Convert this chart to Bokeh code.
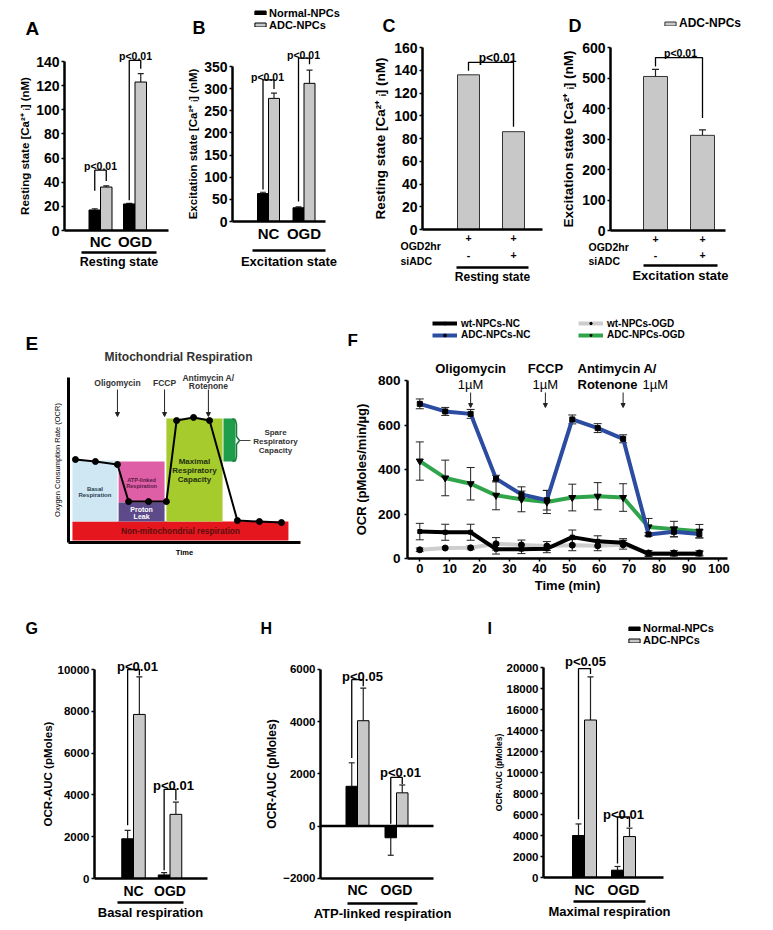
from bokeh.plotting import figure
from bokeh.models import (Range1d, FixedTicker, LinearAxis, Legend, LegendItem, Label,
                          Whisker, ColumnDataSource, TeeHead, Arrow, NormalHead)
from bokeh.layouts import row, column
from bokeh.embed import file_html
from bokeh.resources import INLINE

FONT = "Liberation Sans"
BLACK = "#000000"
GRAY = "#c8c8c8"

# ------------------------------------------------------------------ DATA
groups = ["NC", "OGD"]
series_names = ["Normal-NPCs", "ADC-NPCs"]

a_normal = [17, 22]
a_normal_err = [1, 0.5]
a_adc = [36, 123]
a_adc_err = [1, 7]

b_normal = [63, 31]
b_normal_err = [3, 2]
b_adc = [278, 312]
b_adc_err = [12, 30]

cd_ogd2hr = ["+", "+"]
cd_siadc = ["-", "+"]
c_adc = [136, 86]
d_adc = [505, 312]
d_adc_err = [23, 18]

f_time = [0, 8.5, 17, 25.5, 34, 42.5, 51, 59.5, 68, 76.5, 85, 93.5]
f_wt_nc = [121, 118, 118, 42, 42, 44, 96, 77, 71, 21, 21, 21]
f_wt_nc_err = [37, 36, 36, 22, 20, 18, 32, 25, 18, 12, 10, 10]
f_adc_nc = [695, 661, 650, 359, 288, 262, 625, 586, 538, 108, 120, 110]
f_adc_nc_err = [22, 18, 20, 15, 15, 44, 20, 20, 18, 8, 22, 18]
f_wt_ogd = [39, 47, 48, 66, 61, 56, 60, 57, 62, 25, 25, 25]
f_wt_ogd_err = [8, 6, 8, 28, 22, 20, 25, 22, 20, 10, 10, 10]
f_adc_ogd = [438, 362, 336, 284, 266, 254, 274, 280, 274, 142, 132, 123]
f_adc_ogd_err = [86, 80, 73, 65, 56, 52, 60, 61, 62, 38, 35, 30]
f_inject_time = [17, 42, 68]

g_normal = [1900, 170]
g_normal_err = [400, 110]
g_adc = [7850, 3070]
g_adc_err = [1800, 580]

h_normal = [1520, -450]
h_normal_err = [900, 670]
h_adc = [4030, 1270]
h_adc_err = [1250, 300]

i_normal = [4000, 700]
i_normal_err = [1100, 350]
i_adc = [15000, 3900]
i_adc_err = [4100, 800]

# schematic (panel E), arbitrary units
e_time = [3, 11.6, 21.1, 25.9, 34.5, 42.2, 46.6, 53.9, 60.8, 72.8, 82.3, 91.8]
e_ocr = [50.3, 49.1, 47.3, 24.8, 24.8, 24.8, 73.9, 75.8, 73.9, 13.3, 12.7, 12.1]
e_region = ["Non-mitochondrial respiration", "Basal\nRespiration", "ATP-linked\nRespiration",
            "Proton\nLeak", "Maximal\nRespiratory\nCapacity", "Spare"]
e_left = [1.7, 1.7, 21.6, 21.6, 42.2, 66.8]
e_right = [94.8, 21.1, 41.4, 41.4, 66.4, 72.0]
e_bottom = [1.2, 12.7, 24.2, 12.7, 12.7, 49.1]
e_top = [12.7, 49.7, 49.1, 24.2, 75.2, 75.2]
e_inject = ["Oligomycin", "FCCP", "Antimycin A/", "Rotenone"]
e_inject_time = [21.1, 41.4, 60.3]

E_COLORS = ["#e5161d", "#cfe6f3", "#de5fa6", "#5d4a8a", "#a6cb2c", "#1e9e4a"]


# ------------------------------------------------------------------ helpers
def make_fig(fig, xm, ym):
    fx, fy, w, h = fig
    p = figure(width=w, height=h,
               x_range=Range1d(xm(fx), xm(fx + w)),
               y_range=Range1d(ym(fy + h), ym(fy)),
               min_border=0, min_border_left=0, min_border_right=0,
               min_border_top=0, min_border_bottom=0,
               output_backend="svg", toolbar_location=None)
    p.xgrid.visible = False
    p.ygrid.visible = False
    p.outline_line_color = None
    p.title.visible = False
    if "frame_align" in type(p).properties():
        p.frame_align = False
    return p


def label(p, x, y, text, size, bold=True, align="center", baseline="alphabetic",
          color="black", angle=0, lh=1.0):
    p.add_layout(Label(x=x, y=y, text=text, text_font=FONT, text_font_size=f"{size}px",
                       text_font_style=("bold" if bold else "normal"), text_align=align,
                       text_baseline=baseline, text_color=color, angle=angle,
                       text_line_height=lh))


def base_axis(ax, lw=2.5):
    ax.axis_line_width = lw
    ax.axis_line_color = "black"
    ax.major_tick_line_color = "black"
    ax.major_tick_line_width = 1.5
    ax.minor_tick_line_color = None
    ax.major_label_text_font = FONT
    ax.major_label_text_font_style = "bold"
    ax.major_label_text_color = "black"
    ax.axis_label_text_font = FONT
    ax.axis_label_text_font_style = "bold"
    ax.axis_label_text_color = "black"


def legend_item(p, fig, rends, text, x_page, bottom_page, gw, gh, size, standoff):
    fx, fy, w, h = fig
    leg = Legend(items=[LegendItem(label=text, renderers=rends)],
                 location=(x_page - fx, fy + h - bottom_page), glyph_width=gw,
                 glyph_height=gh, label_text_font=FONT, label_text_font_style="bold",
                 label_text_font_size=f"{size}px", label_text_color="black",
                 label_standoff=standoff, spacing=0, padding=0, margin=0, label_height=gh,
                 border_line_color=None, background_fill_alpha=0)
    p.add_layout(leg)


def bar_panel(c, bars, errs, colors, rows_labels):
    xm = lambda px: 1 + (px - c["g1"]) / c["xppu"]
    ym = lambda py: c["yref"] + (c["y0p"] - py) / c["yppu"]
    p = make_fig(c["fig"], xm, ym)
    x0 = xm(c["axis_x"])
    x1 = xm(c["xend"])
    bw = c["bar"] / c["xppu"]
    n = len(bars)
    centers = [1, 2]
    offs = [(k - (n - 1) / 2) * bw for k in range(n)]
    rends, bar_x = [], []
    for k in range(n):
        xs = [g + offs[k] for g in centers]
        bar_x.append(xs)
        vals = bars[k]
        src = ColumnDataSource(dict(x=xs, top=vals))
        r = p.vbar(x="x", top="top", bottom=0, width=bw, source=src,
                   fill_color=colors[k], line_color=c.get("edge", "black"), line_width=1)
        rends.append(r)
        if errs[k] is not None:
            up = [v + (e if v >= 0 else -e) for v, e in zip(vals, errs[k])]
            wsrc = ColumnDataSource(dict(x=xs, lo=vals, hi=up))
            p.add_layout(Whisker(source=wsrc, base="x", lower="lo", upper="hi",
                                 dimension="height", line_width=1.2, line_color="#222",
                                 upper_head=TeeHead(size=c["cap"], line_width=1.2,
                                                    line_color="#222"),
                                 lower_head=None))
    if c["ybounds"][0] < 0:
        p.segment(x0=[x0], x1=[x1], y0=[0], y1=[0], line_color="black", line_width=2.5)
    bx, by = [], []
    for j, (lb, t, rb) in enumerate(c["brackets"]):
        if n == 2:
            xl, xr = bar_x[0][j], bar_x[1][j]
        else:
            xl, xr = bar_x[0][0], bar_x[0][1]
        bx.append([xl, xl, xr, xr])
        by.append([lb, t, t, rb])
    p.multi_line(bx, by, line_color="black", line_width=1.3)
    for (px, yv, txt) in c["ptext"]:
        label(p, xm(px), yv, txt, c["p_size"])
    # y axis
    ay = p.yaxis[0]
    base_axis(ay)
    ay.fixed_location = x0
    ay.ticker = FixedTicker(ticks=c["yticks"])
    ay.bounds = c["ybounds"]
    ay.major_tick_out = 3
    ay.major_tick_in = 0
    ay.major_label_standoff = 2
    ay.major_label_text_font_size = f"{c['tick_size']}px"
    ay.axis_label = c["ylab"]
    ay.axis_label_text_font_size = f"{c['ylab_size']}px"
    ay.axis_label_standoff = c["ylab_standoff"]
    # x axis (category labels)
    ax = p.xaxis[0]
    base_axis(ax)
    ax.fixed_location = c["ybounds"][0]
    ax.ticker = FixedTicker(ticks=centers)
    ax.major_label_overrides = {1: rows_labels[0][0], 2: rows_labels[0][1]}
    ax.bounds = (x0, x1)
    ax.major_tick_line_color = None
    ax.major_tick_out = 0
    ax.major_tick_in = 0
    ax.major_label_standoff = c["s1"]
    ax.major_label_text_font_size = f"{c['cat_size']}px"
    if len(rows_labels) > 1:
        lab = rows_labels[1]
        ax2 = LinearAxis(ticker=FixedTicker(ticks=centers),
                         major_label_overrides={1: lab[0], 2: lab[1]}, bounds=(x0, x1))
        base_axis(ax2)
        ax2.fixed_location = ym(c["row2"])
        ax2.axis_line_color = None
        ax2.major_tick_line_color = None
        ax2.major_tick_out = 0
        ax2.major_tick_in = 0
        ax2.major_label_standoff = 0
        ax2.major_label_text_font_size = f"{c['cat_size']}px"
        p.add_layout(ax2, "below")
    u0, u1, uy = c["under"]
    ax3 = LinearAxis(ticker=FixedTicker(ticks=[]), bounds=(xm(u0), xm(u1)),
                     axis_label=c["sub"])
    base_axis(ax3, lw=2.5)
    ax3.fixed_location = ym(uy)
    ax3.major_tick_line_color = None
    ax3.major_tick_out = 0
    ax3.major_tick_in = 0
    ax3.major_label_standoff = 0
    ax3.axis_label_standoff = c["s3"]
    ax3.axis_label_text_font_size = f"{c['sub_size']}px"
    p.add_layout(ax3, "below")
    lt, lx, lyb, lsz = c["letter"]
    label(p, xm(lx), ym(lyb), lt, lsz, align="left")
    for (txt, cx, cy) in c.get("captions", []):
        label(p, xm(cx), ym(cy), txt, c["cat_size"], align="left")
    if c.get("legend"):
        lx3, lys, lsize = c["legend"]
        for nm, r, yb in zip(c["legend_names"], rends, lys):
            legend_item(p, c["fig"], [r], nm, lx3, yb, 14, 5, lsize, 2)
    return p


# ------------------------------------------------------------------ panels A-D
cA = dict(fig=(0, 0, 186, 298), g1=100, xppu=34.5, bar=11.5, axis_x=64, xend=168,
          yref=0, y0p=230, yppu=169 / 140, ybounds=(0, 140),
          yticks=list(range(0, 141, 20)), tick_size=14,
          ylab="Resting state [Ca²⁺ ᵢ] (nM)", ylab_size=11.5, ylab_standoff=2,
          cat_size=15, s1=2, under=(81, 156, 252), sub="Resting state", sub_size=12.5, s3=2,
          cap=6, brackets=[(33, 50, 41), (25, 141, 134)],
          ptext=[(100, 53.8, "p<0.01"), (135, 144.4, "p<0.01")], p_size=10.5,
          letter=("A", 25, 28, 19))
pA = bar_panel(cA, [a_normal, a_adc], [a_normal_err, a_adc_err], [BLACK, GRAY], [groups])

cB = dict(fig=(186, 0, 188, 298), g1=268, xppu=35.5, bar=11, axis_x=232, xend=325,
          yref=0, y0p=221, yppu=155 / 350, ybounds=(0, 350),
          yticks=list(range(0, 351, 50)), tick_size=14,
          ylab="Excitation state [Ca²⁺ ᵢ] (nM)", ylab_size=11.5, ylab_standoff=2,
          cat_size=15, s1=3, under=(252, 325, 250), sub="Excitation state", sub_size=13, s3=3,
          cap=6, brackets=[(72, 320, 299), (45, 369, 355)],
          ptext=[(267, 327, "p<0.01"), (303, 377, "p<0.01")], p_size=10.5,
          letter=("B", 192, 27, 18),
          legend=(253, [18.7, 30.7], 11), legend_names=series_names)
pB = bar_panel(cB, [b_normal, b_adc], [b_normal_err, b_adc_err], [BLACK, GRAY], [groups])

cC = dict(fig=(374, 0, 188, 298), g1=468, xppu=45, bar=22, axis_x=422, xend=542,
          yref=0, y0p=229, yppu=182 / 160, ybounds=(0, 160),
          yticks=list(range(0, 161, 20)), tick_size=14,
          ylab="Resting state [Ca²⁺ ᵢ] (nM)", ylab_size=13.5, ylab_standoff=3,
          cat_size=10.5, s1=4, row2=250, under=(456, 528, 267), sub="Resting state",
          sub_size=12, s3=2, cap=6, edge="#333333",
          brackets=[(139.5, 147, 90.3)], ptext=[(497, 151, "p<0.01")], p_size=12,
          letter=("C", 382, 25, 18),
          captions=[("OGD2hr", 400, 245), ("siADC", 400, 260)])
pC = bar_panel(cC, [c_adc], [None], [GRAY], [cd_ogd2hr, cd_siadc])

cD = dict(fig=(562, 0, 211, 298), g1=655, xppu=47, bar=24, axis_x=610, xend=725,
          yref=0, y0p=230, yppu=183 / 600, ybounds=(0, 600),
          yticks=list(range(0, 601, 100)), tick_size=14,
          ylab="Excitation state [Ca²⁺ ᵢ] (nM)", ylab_size=13.5, ylab_standoff=3,
          cat_size=10.5, s1=4, row2=250, under=(643, 717, 265), sub="Excitation state",
          sub_size=13, s3=2, cap=7, edge="#333333",
          brackets=[(538, 567, 369)], ptext=[(680, 581, "p<0.01")], p_size=10.5,
          letter=("D", 568, 25, 18),
          captions=[("OGD2hr", 588, 246), ("siADC", 588, 260)],
          legend=(663, [30], 12), legend_names=["ADC-NPCs"])
pD = bar_panel(cD, [d_adc], [d_adc_err], [GRAY], [cd_ogd2hr, cd_siadc])

# ------------------------------------------------------------------ panel E
E_FIG = (0, 298, 330, 300)
e_xm = lambda px: (px - 68) / 2.32
e_ym = lambda py: (542 - py) / 1.65
pE = make_fig(E_FIG, e_xm, e_ym)
esrc = ColumnDataSource(dict(l=e_left, r=e_right, b=e_bottom, t=e_top, c=E_COLORS))
pE.quad(left="l", right="r", bottom="b", top="t", fill_color="c", line_color=None, source=esrc)
pE.line(e_time, e_ocr, line_color="black", line_width=2)
pE.scatter(e_time, e_ocr, size=6, color="black")
brace_x = [e_xm(v) for v in (232, 235, 236, 236, 239, 236, 236, 235, 232)]
brace_y = [e_ym(v) for v in (418, 420, 424, 436, 440, 444, 456, 460, 461)]
pE.line(brace_x, brace_y, line_color="#1e7a3a", line_width=1.5)
pE.line([e_xm(239), e_xm(250)], [e_ym(440), e_ym(440)], line_color="#444", line_width=1)
for t in e_inject_time:
    pE.add_layout(Arrow(end=NormalHead(size=4, fill_color="#222", line_color="#222"),
                        x_start=t, y_start=e_ym(389), x_end=t, y_end=e_ym(416),
                        line_width=1, line_color="#222"))
label(pE, e_inject_time[0], e_ym(382), e_inject[0], 8.5, color="#333")
label(pE, e_inject_time[1], e_ym(382), e_inject[1], 8.5, color="#333")
label(pE, e_inject_time[2], e_ym(377), e_inject[2], 8.5, color="#333")
label(pE, e_inject_time[2], e_ym(385.5), e_inject[3], 8.5, color="#333")
label(pE, e_xm(178), e_ym(356), "Mitochondrial Respiration", 12, color="#333")
label(pE, e_xm(25), e_ym(343), "E", 19, align="left")
label(pE, (e_left[0] + e_right[0]) / 2, (e_bottom[0] + e_top[0]) / 2, e_region[0], 8.3,
      baseline="middle", color="#5a0f10")
label(pE, (e_left[1] + e_right[1]) / 2, e_ym(491), e_region[1], 6, baseline="middle",
      color="#2c3e50")
label(pE, (e_left[2] + e_right[2]) / 2, e_ym(482), e_region[2], 5.6, baseline="middle",
      color="#5a1845")
label(pE, (e_left[3] + e_right[3]) / 2, e_ym(512.5), e_region[3], 7, baseline="middle",
      color="white")
label(pE, (e_left[4] + e_right[4]) / 2, e_ym(470), e_region[4], 8, baseline="middle",
      color="#1f3010")
label(pE, e_xm(275), e_ym(441), "Spare\nRespiratory\nCapacity", 8, baseline="middle",
      color="#333")
axE = pE.xaxis[0]
base_axis(axE, lw=3)
axE.fixed_location = 0
axE.ticker = FixedTicker(ticks=[])
axE.bounds = (0, 100)
axE.major_tick_out = 0
axE.major_label_standoff = 0
axE.axis_label = "Time"
axE.axis_label_text_font_size = "7.5px"
axE.axis_label_standoff = 5
ayE = pE.yaxis[0]
base_axis(ayE, lw=3)
ayE.fixed_location = 0
ayE.ticker = FixedTicker(ticks=[])
ayE.bounds = (0, 100)
ayE.major_tick_out = 0
ayE.major_label_standoff = 0
ayE.axis_label = "Oxygen Consumption Rate (OCR)"
ayE.axis_label_text_font_size = "7.5px"
ayE.axis_label_text_font_style = "normal"
ayE.axis_label_standoff = 7

# ------------------------------------------------------------------ panel F
F_FIG = (330, 298, 443, 300)
f_xm = lambda px: (px - 419.3) / 2.99
f_ym = lambda py: (558 - py) / 0.2225
pF = make_fig(F_FIG, f_xm, f_ym)
f_series = [
    ("wt-NPCs-OGD", f_wt_ogd, f_wt_ogd_err, "#cdcdcd", "circle", 6),
    ("wt-NPCs-NC", f_wt_nc, f_wt_nc_err, "#000000", "square", 4),
    ("ADC-NPCs-OGD", f_adc_ogd, f_adc_ogd_err, "#2fa44a", "inverted_triangle", 7),
    ("ADC-NPCs-NC", f_adc_nc, f_adc_nc_err, "#2b4ca0", "square", 5),
]
f_rends = {}
for name, vals, errs, col, mk, ms in f_series:
    src = ColumnDataSource(dict(t=f_time, v=vals,
                                lo=[v - e for v, e in zip(vals, errs)],
                                hi=[v + e for v, e in zip(vals, errs)]))
    lr = pF.line("t", "v", source=src, line_width=4, line_color=col)
    sr = pF.scatter("t", "v", source=src, marker=mk, size=ms, color="black")
    pF.add_layout(Whisker(source=src, base="t", lower="lo", upper="hi", dimension="height",
                          line_width=1, line_color="#222",
                          upper_head=TeeHead(size=8, line_width=1, line_color="#222"),
                          lower_head=TeeHead(size=8, line_width=1, line_color="#222")))
    f_rends[name] = [lr, sr]
legend_item(pF, F_FIG, f_rends["wt-NPCs-NC"], "wt-NPCs-NC", 432, 328.6, 25, 6, 10, 4)
legend_item(pF, F_FIG, f_rends["ADC-NPCs-NC"], "ADC-NPCs-NC", 432, 340.1, 25, 6, 10, 4)
legend_item(pF, F_FIG, f_rends["wt-NPCs-OGD"], "wt-NPCs-OGD", 578, 328.6, 25, 6, 10, 4)
legend_item(pF, F_FIG, f_rends["ADC-NPCs-OGD"], "ADC-NPCs-OGD", 578, 340.1, 25, 6, 10, 4)
for t in f_inject_time:
    pF.add_layout(Arrow(end=NormalHead(size=4, fill_color="#222", line_color="#222"),
                        x_start=t, y_start=f_ym(392), x_end=t, y_end=f_ym(407),
                        line_width=1, line_color="#222"))
label(pF, f_inject_time[0], f_ym(368), "Oligomycin", 13)
label(pF, f_inject_time[0], f_ym(383.5), "1µM", 13, bold=False)
label(pF, f_inject_time[1], f_ym(368), "FCCP", 13)
label(pF, f_inject_time[1], f_ym(383.5), "1µM", 13, bold=False)
label(pF, f_xm(577), f_ym(368), "Antimycin A/", 13, align="left")
label(pF, f_xm(577), f_ym(383.5), "Rotenone", 13, align="left")
label(pF, f_xm(642), f_ym(383.5), "1µM", 13, bold=False, align="left")
label(pF, f_xm(347), f_ym(340), "F", 17, align="left")
axF = pF.xaxis[0]
base_axis(axF)
axF.fixed_location = 0
axF.ticker = FixedTicker(ticks=list(range(0, 101, 10)))
axF.bounds = (f_xm(407), f_xm(727))
axF.major_tick_out = 3
axF.major_tick_in = 0
axF.major_label_standoff = 2
axF.major_label_text_font_size = "13px"
axF.axis_label = "Time (min)"
axF.axis_label_text_font_size = "13px"
axF.axis_label_standoff = 2
ayF = pF.yaxis[0]
base_axis(ayF)
ayF.fixed_location = f_xm(407)
ayF.ticker = FixedTicker(ticks=list(range(0, 801, 200)))
ayF.bounds = (0, 800)
ayF.major_tick_out = 3
ayF.major_tick_in = 0
ayF.major_label_standoff = 4
ayF.major_label_text_font_size = "13.5px"
ayF.axis_label = "OCR (pMoles/min/µg)"
ayF.axis_label_text_font_size = "13px"
ayF.axis_label_standoff = 6

# ------------------------------------------------------------------ panels G-I
cG = dict(fig=(0, 598, 253, 330), g1=133, xppu=36.5, bar=11.75, axis_x=94, xend=207,
          yref=0, y0p=878, yppu=209 / 10000, ybounds=(0, 10000),
          yticks=list(range(0, 10001, 2000)), tick_size=11.5,
          ylab="OCR-AUC (pMoles)", ylab_size=11.5, ylab_standoff=1,
          cat_size=14, s1=4, under=(117, 183, 902), sub="Basal respiration", sub_size=13, s3=2,
          cap=6, brackets=[(2550, 10000, 9713), (398, 4268, 3742)],
          ptext=[(137, 10158, "p<0.01"), (173, 4435, "p<0.01")], p_size=13,
          letter=("G", 25, 628, 16))
pG = bar_panel(cG, [g_normal, g_adc], [g_normal_err, g_adc_err], [BLACK, GRAY], [groups])

cH = dict(fig=(253, 598, 233, 330), g1=357, xppu=39, bar=11.5, axis_x=320, xend=433,
          yref=0, y0p=825.5, yppu=209 / 8000, ybounds=(-2000, 6000),
          yticks=list(range(-2000, 6001, 2000)), tick_size=11.5,
          ylab="OCR-AUC (pMoles)", ylab_size=12, ylab_standoff=1,
          cat_size=14, s1=4, under=(347, 417, 903), sub="ATP-linked respiration",
          sub_size=13, s3=2, cap=6,
          brackets=[(2600, 5600, 5350), (90, 1860, 1610)],
          ptext=[(362, 5722, "p<0.05"), (400, 2036, "p<0.01")], p_size=13,
          letter=("H", 260, 628, 16))
pH = bar_panel(cH, [h_normal, h_adc], [h_normal_err, h_adc_err], [BLACK, GRAY], [groups])

cI = dict(fig=(486, 598, 287, 330), g1=584, xppu=39, bar=12, axis_x=543, xend=663,
          yref=0, y0p=877, yppu=210 / 20000, ybounds=(0, 20000),
          yticks=list(range(0, 20001, 2000)), tick_size=11.5,
          ylab="OCR-AUC (pMoles)", ylab_size=8.5, ylab_standoff=0,
          cat_size=14, s1=4, under=(573, 645, 901), sub="Maximal respiration", sub_size=13,
          s3=2, cap=6,
          brackets=[(5540, 19900, 19370), (1330, 5760, 4810)],
          ptext=[(585, 20543, "p<0.05"), (623, 6000, "p<0.01")], p_size=13,
          letter=("I", 487, 628, 16),
          legend=(627, [634.2, 646.2], 11), legend_names=series_names)
pI = bar_panel(cI, [i_normal, i_adc], [i_normal_err, i_adc_err], [BLACK, GRAY], [groups])

layout = column(row(pA, pB, pC, pD), row(pE, pF), row(pG, pH, pI))
open("out.html", "w").write(file_html(layout, INLINE))
